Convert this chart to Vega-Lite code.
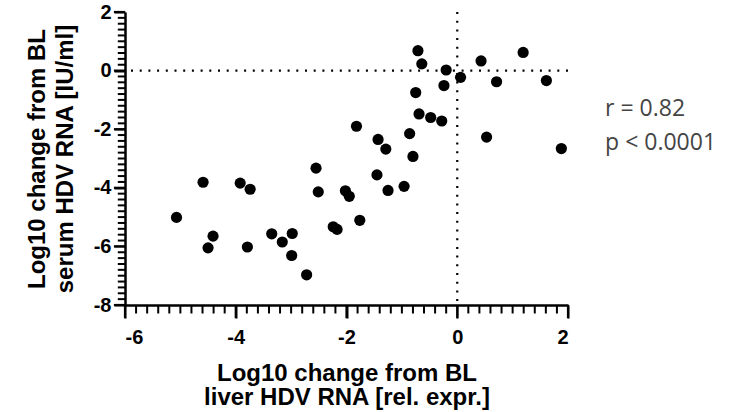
{
  "$schema": "https://vega.github.io/schema/vega-lite/v6.json",
  "width": 443,
  "height": 293,
  "autosize": "none",
  "padding": {"left": 125, "top": 12, "right": 165, "bottom": 107},
  "background": "white",
  "config": {
    "view": {"stroke": null},
    "axis": {
      "grid": false,
      "domainColor": "black",
      "domainWidth": 2.5,
      "tickColor": "black",
      "tickWidth": 2,
      "labelFont": "Liberation Sans",
      "labelFontWeight": "bold",
      "labelFontSize": 20,
      "labelColor": "black",
      "titleFont": "Liberation Sans",
      "titleFontWeight": "bold",
      "titleFontSize": 24,
      "titleColor": "black"
    }
  },
  "datasets": {
    "points": [
      {"liver": -0.71, "serum": 0.68},
      {"liver": -0.64, "serum": 0.23},
      {"liver": -0.20, "serum": 0.02},
      {"liver": 0.06, "serum": -0.23},
      {"liver": 0.43, "serum": 0.33},
      {"liver": 1.19, "serum": 0.62},
      {"liver": 0.71, "serum": -0.38},
      {"liver": 1.61, "serum": -0.34},
      {"liver": -0.24, "serum": -0.51},
      {"liver": -0.75, "serum": -0.75},
      {"liver": -0.69, "serum": -1.48},
      {"liver": -0.48, "serum": -1.60},
      {"liver": -0.28, "serum": -1.72},
      {"liver": -1.82, "serum": -1.90},
      {"liver": -0.86, "serum": -2.15},
      {"liver": 0.53, "serum": -2.27},
      {"liver": -1.43, "serum": -2.35},
      {"liver": -1.29, "serum": -2.68},
      {"liver": 1.88, "serum": -2.66},
      {"liver": -0.80, "serum": -2.93},
      {"liver": -2.55, "serum": -3.33},
      {"liver": -1.45, "serum": -3.56},
      {"liver": -2.51, "serum": -4.14},
      {"liver": -2.02, "serum": -4.10},
      {"liver": -1.95, "serum": -4.29},
      {"liver": -1.25, "serum": -4.09},
      {"liver": -0.96, "serum": -3.95},
      {"liver": -5.07, "serum": -5.01},
      {"liver": -4.59, "serum": -3.81},
      {"liver": -4.41, "serum": -5.65},
      {"liver": -4.50, "serum": -6.05},
      {"liver": -3.92, "serum": -3.84},
      {"liver": -3.74, "serum": -4.05},
      {"liver": -3.79, "serum": -6.02},
      {"liver": -3.35, "serum": -5.57},
      {"liver": -3.16, "serum": -5.85},
      {"liver": -2.98, "serum": -5.56},
      {"liver": -2.99, "serum": -6.31},
      {"liver": -2.72, "serum": -6.97},
      {"liver": -2.24, "serum": -5.33},
      {"liver": -2.17, "serum": -5.42},
      {"liver": -1.76, "serum": -5.11}
    ],
    "stats": [{"line1": "r = 0.82", "line2": "p < 0.0001"}],
    "xMajorTicks": [{"v": -6}, {"v": -4}, {"v": -2}, {"v": 0}, {"v": 2}],
    "xMinorTicks": [
      {"v": -5.8}, {"v": -5.6}, {"v": -5.4}, {"v": -5.2}, {"v": -5}, {"v": -4.8}, {"v": -4.6}, {"v": -4.4}, {"v": -4.2},
      {"v": -3.8}, {"v": -3.6}, {"v": -3.4}, {"v": -3.2}, {"v": -3}, {"v": -2.8}, {"v": -2.6}, {"v": -2.4}, {"v": -2.2},
      {"v": -1.8}, {"v": -1.6}, {"v": -1.4}, {"v": -1.2}, {"v": -1}, {"v": -0.8}, {"v": -0.6}, {"v": -0.4}, {"v": -0.2},
      {"v": 0.2}, {"v": 0.4}, {"v": 0.6}, {"v": 0.8}, {"v": 1}, {"v": 1.2}, {"v": 1.4}, {"v": 1.6}, {"v": 1.8}
    ],
    "yMajorTicks": [{"v": -8}, {"v": -6}, {"v": -4}, {"v": -2}, {"v": 0}, {"v": 2}],
    "yMinorTicks": [
      {"v": -7.8}, {"v": -7.6}, {"v": -7.4}, {"v": -7.2}, {"v": -7}, {"v": -6.8}, {"v": -6.6}, {"v": -6.4}, {"v": -6.2},
      {"v": -5.8}, {"v": -5.6}, {"v": -5.4}, {"v": -5.2}, {"v": -5}, {"v": -4.8}, {"v": -4.6}, {"v": -4.4}, {"v": -4.2},
      {"v": -3.8}, {"v": -3.6}, {"v": -3.4}, {"v": -3.2}, {"v": -3}, {"v": -2.8}, {"v": -2.6}, {"v": -2.4}, {"v": -2.2},
      {"v": -1.8}, {"v": -1.6}, {"v": -1.4}, {"v": -1.2}, {"v": -1}, {"v": -0.8}, {"v": -0.6}, {"v": -0.4}, {"v": -0.2},
      {"v": 0.2}, {"v": 0.4}, {"v": 0.6}, {"v": 0.8}, {"v": 1}, {"v": 1.2}, {"v": 1.4}, {"v": 1.6}, {"v": 1.8}
    ]
  },
  "layer": [
    {
      "data": {"name": "stats"},
      "mark": {"type": "rule", "color": "black", "strokeWidth": 2.2, "strokeDash": [2, 6.7]},
      "encoding": {"y": {"datum": 0, "type": "quantitative"}}
    },
    {
      "data": {"name": "stats"},
      "mark": {"type": "rule", "color": "black", "strokeWidth": 2.2, "strokeDash": [2, 6.7]},
      "encoding": {"x": {"datum": 0, "type": "quantitative"}}
    },
    {
      "data": {"name": "points"},
      "mark": {"type": "circle", "color": "black", "opacity": 1, "size": 125},
      "encoding": {
        "x": {
          "field": "liver",
          "type": "quantitative",
          "scale": {"domain": [-6, 2], "nice": false, "zero": false},
          "axis": {
            "title": ["Log10 change from BL", "liver HDV RNA [rel. expr.]"],
            "titleLineHeight": 24,
            "titlePadding": 14,
            "values": [-6, -4, -2, 0, 2],
            "labelExpr": "'' + datum.value",
            "tickSize": 13,
            "labelPadding": 9
          }
        },
        "y": {
          "field": "serum",
          "type": "quantitative",
          "scale": {"domain": [-8, 2], "nice": false, "zero": false},
          "axis": {
            "title": ["Log10 change from BL", "serum HDV RNA [IU/ml]"],
            "titleLineHeight": 28,
            "titlePadding": 16,
            "values": [-8, -6, -4, -2, 0, 2],
            "labelExpr": "'' + datum.value",
            "tickSize": 11,
            "labelPadding": 3
          }
        }
      }
    },
    {
      "data": {"name": "xMajorTicks"},
      "mark": {"type": "rule", "color": "black", "strokeWidth": 2.2, "strokeCap": "butt"},
      "encoding": {
        "x": {"field": "v", "type": "quantitative"},
        "y": {"datum": -8, "type": "quantitative"},
        "y2": {"datum": -8.45}
      }
    },
    {
      "data": {"name": "xMinorTicks"},
      "mark": {"type": "rule", "color": "black", "strokeWidth": 2, "strokeCap": "butt"},
      "encoding": {
        "x": {"field": "v", "type": "quantitative"},
        "y": {"datum": -8, "type": "quantitative"},
        "y2": {"datum": -8.29}
      }
    },
    {
      "data": {"name": "yMajorTicks"},
      "mark": {"type": "rule", "color": "black", "strokeWidth": 2.2, "strokeCap": "butt"},
      "encoding": {
        "y": {"field": "v", "type": "quantitative"},
        "x": {"datum": -6, "type": "quantitative"},
        "x2": {"datum": -6.2}
      }
    },
    {
      "data": {"name": "yMinorTicks"},
      "mark": {"type": "rule", "color": "black", "strokeWidth": 2, "strokeCap": "butt"},
      "encoding": {
        "y": {"field": "v", "type": "quantitative"},
        "x": {"datum": -6, "type": "quantitative"},
        "x2": {"datum": -6.13}
      }
    },
    {
      "data": {"name": "stats"},
      "mark": {"type": "text", "align": "left", "baseline": "alphabetic", "font": "Open Sans", "fontSize": 23, "color": "#444444", "lineHeight": 34},
      "encoding": {
        "x": {"datum": 2.67, "type": "quantitative"},
        "y": {"datum": -1.56, "type": "quantitative"},
        "text": {"value": ["r = 0.82", "p < 0.0001"]}
      }
    }
  ]
}
